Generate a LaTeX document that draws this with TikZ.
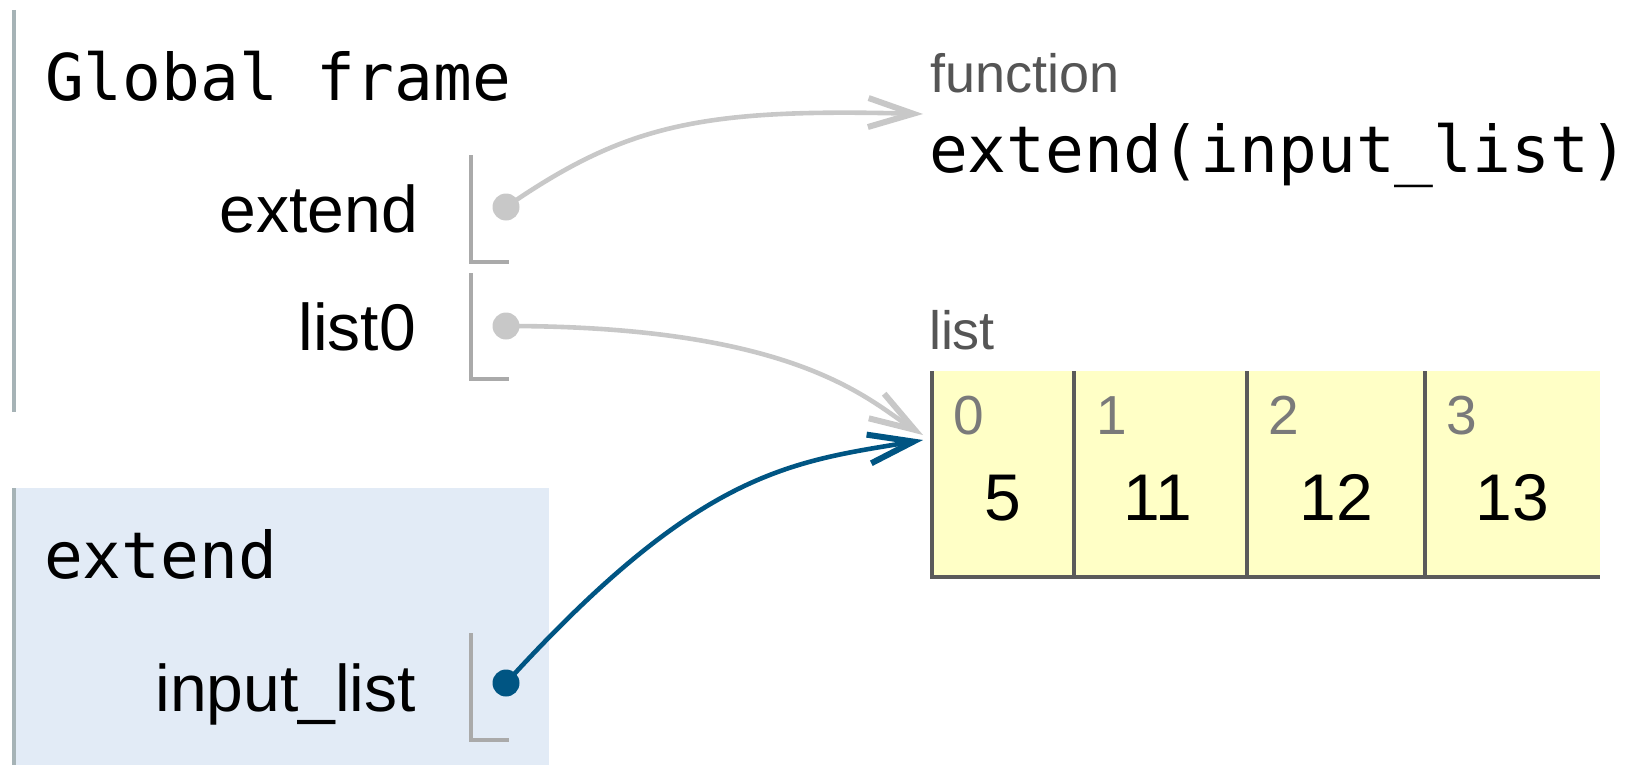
\documentclass[tikz,border=0pt]{standalone}
\usepackage{fontspec}
\setmainfont{Liberation Sans}
\setmonofont{DejaVu Sans Mono}
\usetikzlibrary{arrows.meta}

\definecolor{framebar}{HTML}{A6B3B6}
\definecolor{framefill}{HTML}{E2EBF6}
\definecolor{slotline}{HTML}{AAAAAA}
\definecolor{ptrgray}{HTML}{C8C8C8}
\definecolor{ptrblue}{HTML}{005583}
\definecolor{cellfill}{HTML}{FFFFC6}
\definecolor{cellline}{HTML}{5A5A5A}
\definecolor{typelabel}{HTML}{555555}
\definecolor{idxlabel}{HTML}{7A7A7A}

\tikzset{
  lbl/.style={inner sep=0pt, outer sep=0pt},
  monotitle/.style={lbl, anchor=base west, font=\ttfamily\fontsize{64.5bp}{70bp}\selectfont},
  varname/.style={lbl, anchor=base east, font=\fontsize{66bp}{70bp}\selectfont},
  typename/.style={lbl, anchor=base west, text=typelabel, font=\fontsize{54bp}{60bp}\selectfont},
  idxname/.style={lbl, anchor=base west, text=idxlabel, font=\fontsize{55bp}{60bp}\selectfont},
  cellval/.style={lbl, anchor=base, font=\fontsize{66bp}{70bp}\selectfont},
  slotbox/.style={draw=slotline, line width=3.3bp},
  framebarline/.style={draw=framebar, line width=3.5bp},
  ptrdot/.style={circle, inner sep=0pt, minimum size=27bp, fill=#1},
  ptrline/.style={draw=#1, line width=4.6bp,
    -{Straight Barb[length=45bp, width=29bp, line width=6bp]}},
}

\begin{document}
\begin{tikzpicture}[x=1bp, y=-1bp]
\useasboundingbox (0,0) rectangle (1651,765);

% ---- Global frame ----
\draw[framebarline] (14,10) -- (14,412);
\node[monotitle] (gtitle) at (45,100) {Global frame};
\node[varname] (vextend) at (418,232) {extend};
\node[varname] (vlist0) at (416,350) {list0};
\draw[slotbox] (471,155) -- (471,262) -- (509,262);
\draw[slotbox] (471,273) -- (471,379) -- (509,379);

% ---- extend frame (active) ----
\fill[framefill] (12,488) rectangle (549,765);
\draw[framebarline] (14,488) -- (14,765);
\node[monotitle] (ftitle) at (44,578) {extend};
\node[varname] (vinput) at (416,711) {input\_list};
\draw[slotbox] (471,633) -- (471,740) -- (509,740);

% ---- heap: function object ----
\node[typename] (tfunc) at (930,92) {function};
\node[monotitle] (funcname) at (929,172) {extend(input\_list)};

% ---- heap: list object ----
\node[typename] (tlist) at (929,349) {list};
\fill[cellfill] (932,371) rectangle (1600,577);
\draw[cellline, line width=3.3bp] (932,371) -- (932,577) -- (1600,577);
\foreach \xd in {1074,1247,1425}
  \draw[cellline, line width=3.3bp] (\xd,371) -- (\xd,577);

\node[idxname] (i0) at (953,434) {0};
\node[idxname] (i1) at (1096,434) {1};
\node[idxname] (i2) at (1268,434) {2};
\node[idxname] (i3) at (1446,434) {3};
\node[cellval] (v0) at (1003,520) {5};
\node[cellval] (v1) at (1158,520) {11};
\node[cellval] (v2) at (1336,520) {12};
\node[cellval] (v3) at (1512,520) {13};

% ---- pointers ----
\node[ptrdot=ptrgray] (dextend) at (506,207) {};
\node[ptrdot=ptrgray] (dlist0) at (506,326) {};
\node[ptrdot=ptrblue] (dinput) at (506,683) {};

\coordinate (funchead) at (923,114);
\coordinate (listhead) at (923,435);
\coordinate (listheadb) at (923,440);

\draw[ptrline=ptrgray] (dextend.center) .. controls (625,125) and (700,108) .. (funchead);
\draw[ptrline=ptrgray] (dlist0.center) .. controls (800,326) and (870,402) .. (listhead);
\draw[ptrline=ptrblue] (dinput.center) .. controls (700,470) and (790,462) .. (listheadb);
\end{tikzpicture}
\end{document}
